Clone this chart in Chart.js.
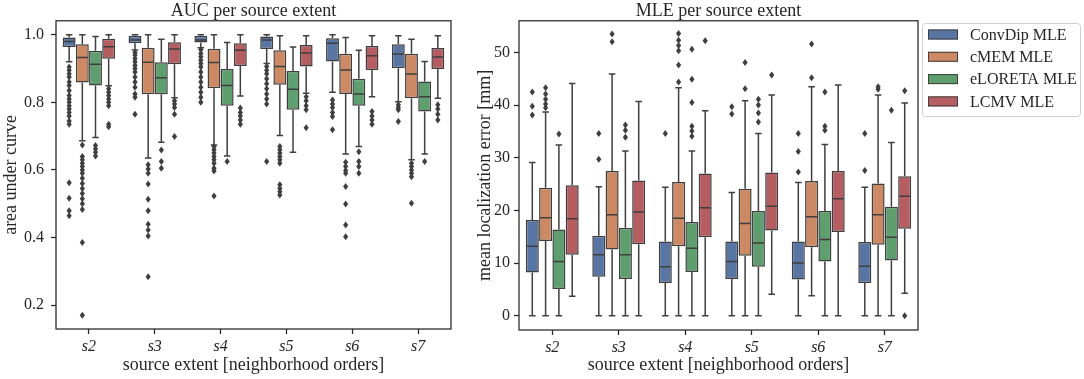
<!DOCTYPE html>
<html>
<head>
<meta charset="utf-8">
<script src="https://cdn.jsdelivr.net/npm/chart.js@4.4.1/dist/chart.umd.min.js"></script>
<style>
body { margin: 0; background: #fff; width: 1084px; height: 379px; overflow: hidden; position: relative; }
canvas { position: absolute; top: 0; }
#auc { left: 0; }
#mle { left: 470px; }
</style>
</head>
<body>
<canvas id="auc" width="470" height="379"></canvas>
<canvas id="mle" width="614" height="379"></canvas>
<script>
// categories and series
var categories = ['s2', 's3', 's4', 's5', 's6', 's7'];
var series = ['ConvDip MLE', 'cMEM MLE', 'eLORETA MLE', 'LCMV MLE'];
var colors = ['#5875a4', '#cc8963', '#5f9e6e', '#b55d60'];

// AUC panel, rows = series, cols = categories
var aucLo  = [[0.920, 0.955, 0.962, 0.915, 0.830, 0.802],
              [0.686, 0.635, 0.674, 0.702, 0.647, 0.630],
              [0.696, 0.682, 0.641, 0.652, 0.669, 0.647],
              [0.849, 0.814, 0.819, 0.827, 0.817, 0.812]];
var aucQ1  = [[0.964, 0.975, 0.977, 0.958, 0.921, 0.901],
              [0.859, 0.824, 0.842, 0.852, 0.825, 0.812],
              [0.850, 0.824, 0.790, 0.778, 0.790, 0.773],
              [0.929, 0.913, 0.908, 0.906, 0.896, 0.899]];
var aucMed = [[0.980, 0.985, 0.985, 0.985, 0.975, 0.943],
              [0.933, 0.919, 0.918, 0.906, 0.896, 0.884],
              [0.913, 0.873, 0.850, 0.839, 0.825, 0.817],
              [0.965, 0.958, 0.954, 0.946, 0.938, 0.934]];
var aucQ3  = [[0.992, 0.997, 0.997, 0.995, 0.990, 0.972],
              [0.972, 0.962, 0.959, 0.954, 0.944, 0.944],
              [0.953, 0.919, 0.899, 0.893, 0.870, 0.862],
              [0.988, 0.978, 0.975, 0.970, 0.967, 0.961]];
var aucHi  = [[1.000, 1.000, 1.000, 1.000, 1.000, 0.997],
              [1.000, 1.000, 1.000, 0.997, 0.992, 0.987],
              [0.995, 0.987, 0.977, 0.964, 0.954, 0.921],
              [1.000, 1.000, 1.000, 0.997, 0.997, 0.997]];
var aucOut = [
  [[0.905, 0.895, 0.885, 0.875, 0.86, 0.85, 0.835, 0.82, 0.81, 0.80, 0.79, 0.78, 0.77, 0.76, 0.745, 0.735, 0.562, 0.516, 0.479, 0.464],
   [0.948, 0.94, 0.93, 0.92, 0.91, 0.90, 0.89, 0.875, 0.86, 0.845, 0.825, 0.815, 0.765],
   [0.956, 0.945, 0.935, 0.925, 0.915, 0.905, 0.89, 0.875, 0.86, 0.845, 0.83, 0.815, 0.80],
   [0.906, 0.895, 0.885, 0.87, 0.855, 0.84, 0.825, 0.81, 0.795, 0.625],
   [0.807, 0.795, 0.785, 0.77, 0.758, 0.719],
   [0.793, 0.785, 0.778, 0.743]],
  [[0.674, 0.64, 0.63, 0.62, 0.61, 0.60, 0.59, 0.575, 0.56, 0.545, 0.53, 0.515, 0.50, 0.483, 0.385, 0.17],
   [0.615, 0.603, 0.590, 0.558, 0.513, 0.479, 0.439, 0.422, 0.404, 0.284],
   [0.669, 0.66, 0.65, 0.64, 0.63, 0.62, 0.605, 0.597, 0.523],
   [0.669, 0.66, 0.65, 0.64, 0.63, 0.62, 0.556, 0.545, 0.535, 0.526],
   [0.623, 0.61, 0.598, 0.59, 0.551, 0.499, 0.437, 0.402],
   [0.62, 0.61, 0.60, 0.59, 0.58, 0.501]],
  [[0.672, 0.662, 0.652, 0.641],
   [0.659, 0.625, 0.605],
   [0.625],
   [],
   [0.654, 0.625, 0.61, 0.59],
   [0.625]],
  [[0.84, 0.83, 0.82, 0.81, 0.80, 0.79, 0.735, 0.728],
   [0.805, 0.795, 0.785, 0.765, 0.699],
   [0.783, 0.77, 0.76, 0.748, 0.735],
   [0.817, 0.805, 0.79, 0.778, 0.725],
   [0.773, 0.76, 0.748, 0.735],
   [0.793, 0.78, 0.765, 0.748]]
];
var aucTicks = [0.2, 0.4, 0.6, 0.8, 1.0];

// MLE panel [mm]
var mleLo  = [[0, 0, 0, 0, 0, 0],
              [0, 0, 0, 0, 3.8, 0],
              [0, 0, 0, 0, 0, 0],
              [3.7, 0, 0, 4.1, 0, 4.3]];
var mleQ1  = [[8.2, 7.4, 6.2, 7.0, 6.9, 6.2],
              [14.2, 12.6, 13.2, 11.4, 13.0, 13.5],
              [5.1, 7.0, 8.3, 9.3, 10.3, 10.5],
              [11.6, 13.6, 14.9, 16.2, 15.9, 16.5]];
var mleMed = [[13.2, 11.6, 9.3, 10.3, 10.0, 9.4],
              [18.6, 19.2, 18.5, 17.5, 18.8, 19.2],
              [10.3, 11.6, 12.8, 13.8, 14.5, 14.9],
              [18.4, 19.7, 20.5, 20.8, 22.2, 22.7]];
var mleQ3  = [[18.2, 15.2, 14.1, 14.1, 14.1, 14.0],
              [24.3, 27.5, 25.4, 24.1, 25.6, 25.1],
              [16.4, 16.7, 17.8, 19.9, 19.9, 20.7],
              [24.8, 25.7, 27.0, 27.2, 27.5, 26.5]];
var mleHi  = [[29.1, 24.5, 24.4, 23.4, 25.3, 24.4],
              [38.7, 45.9, 43.3, 40.8, 43.5, 41.9],
              [32.4, 31.3, 31.3, 34.6, 32.5, 32.9],
              [44.1, 40.7, 38.9, 41.9, 43.8, 40.4]];
var mleOut = [
  [[38.1, 39.8, 42.5], [29.7, 34.6], [34.6], [38.3, 39.7], [27.3, 31.2, 34.6], [27.6, 34.6]],
  [[39.5, 40.2, 41.1, 42.1, 43.3], [52.0, 53.5], [44.4, 47.6, 50.3, 51.3, 52.3, 53.6], [43.1, 48.1], [45.2, 51.6], [43.0, 43.5]],
  [[34.5], [33.9, 35.2, 36.2], [34.1, 35.1, 36.0, 40.5, 44.9, 50.6], [36.8, 38.5, 40.0, 41.1], [35.2, 36.0, 42.5], [39.0]],
  [[], [], [52.2], [45.7], [], [0, 42.7]]
];
var mleTicks = [0, 10, 20, 30, 40, 50];

var FONT = 'Liberation Serif';
var INK = '#262626';
var EDGE = '#3f3f3f';

// whiskers, medians, fliers and the axes frame
function boxExtras(lo, hi, med, outl) {
    return {
        id: 'boxExtras',
        afterDatasetsDraw: function (chart) {
            var ctx = chart.ctx;
            var y = chart.scales.y;
            ctx.save();
            ctx.strokeStyle = EDGE;
            ctx.fillStyle = EDGE;
            ctx.lineWidth = 1.5;
            chart.data.datasets.forEach(function (ds, i) {
                chart.getDatasetMeta(i).data.forEach(function (bar, j) {
                    var x = bar.x, w = bar.width;
                    var y1 = y.getPixelForValue(ds.data[j][0]);
                    var y3 = y.getPixelForValue(ds.data[j][1]);
                    var yl = y.getPixelForValue(lo[i][j]);
                    var yh = y.getPixelForValue(hi[i][j]);
                    var ym = y.getPixelForValue(med[i][j]);
                    ctx.beginPath();
                    ctx.moveTo(x, y1); ctx.lineTo(x, yl);
                    ctx.moveTo(x, y3); ctx.lineTo(x, yh);
                    ctx.moveTo(x - w / 4, yl); ctx.lineTo(x + w / 4, yl);
                    ctx.moveTo(x - w / 4, yh); ctx.lineTo(x + w / 4, yh);
                    ctx.moveTo(x - w / 2 + 1, ym); ctx.lineTo(x + w / 2 - 1, ym);
                    ctx.stroke();
                    outl[i][j].forEach(function (v) {
                        var py = y.getPixelForValue(v);
                        ctx.beginPath();
                        ctx.moveTo(x, py - 3.5);
                        ctx.lineTo(x + 2.6, py);
                        ctx.lineTo(x, py + 3.5);
                        ctx.lineTo(x - 2.6, py);
                        ctx.closePath();
                        ctx.fill();
                    });
                });
            });
            var a = chart.chartArea;
            ctx.strokeStyle = INK;
            ctx.lineWidth = 1.25;
            ctx.strokeRect(a.left, a.top, a.right - a.left, a.bottom - a.top);
            ctx.restore();
        }
    };
}

var boxLegend = {
    id: 'boxLegend',
    afterDraw: function (chart) {
        var ctx = chart.ctx;
        ctx.save();
        ctx.fillStyle = 'rgba(255,255,255,0.8)';
        ctx.strokeStyle = '#d0d0d0';
        ctx.lineWidth = 1;
        ctx.beginPath();
        ctx.roundRect(452.5, 23.5, 158, 93, 3);
        ctx.fill();
        ctx.stroke();
        ctx.font = '16px "' + FONT + '"';
        ctx.textBaseline = 'middle';
        chart.data.datasets.forEach(function (ds, i) {
            var ry = 34.5 + i * 22.3;
            ctx.fillStyle = ds.backgroundColor;
            ctx.fillRect(458, ry - 5, 30, 10);
            ctx.strokeStyle = EDGE;
            ctx.strokeRect(458.5, ry - 4.5, 29, 9);
            ctx.fillStyle = INK;
            ctx.fillText(ds.label, 500, ry + 1);
        });
        ctx.restore();
    }
};

function makeChart(id, opts) {
    var datasets = series.map(function (s, i) {
        return {
            label: s,
            data: opts.q1[i].map(function (v, j) { return [v, opts.q3[i][j]]; }),
            backgroundColor: colors[i],
            borderColor: EDGE,
            borderWidth: 1.5,
            borderSkipped: false,
            categoryPercentage: 0.8,
            barPercentage: 0.98
        };
    });
    var plugins = [boxExtras(opts.lo, opts.hi, opts.med, opts.out)];
    if (opts.legend) plugins.push(boxLegend);

    return new Chart(document.getElementById(id), {
        type: 'bar',
        data: { labels: categories, datasets: datasets },
        plugins: plugins,
        options: {
            responsive: false,
            animation: false,
            devicePixelRatio: 1,
            layout: { padding: { top: 0, right: opts.padRight, bottom: 0, left: 0 } },
            plugins: {
                legend: { display: false },
                tooltip: { enabled: false },
                title: {
                    display: true,
                    text: opts.title,
                    fullSize: false,
                    color: INK,
                    font: { family: FONT, size: 18, weight: 'normal', lineHeight: 1.1 },
                    padding: { top: 1, bottom: 0 }
                }
            },
            scales: {
                x: {
                    grid: { display: true, offset: false, drawOnChartArea: false, color: INK, tickLength: 5, tickWidth: 1.25 },
                    border: { display: false },
                    ticks: { color: INK, padding: 3, font: { family: FONT, size: 16, style: 'italic' } },
                    title: {
                        display: true,
                        text: 'source extent [neighborhood orders]',
                        color: INK,
                        font: { family: FONT, size: 18 },
                        padding: { top: 0, bottom: 3 }
                    },
                    afterFit: function (s) { s.height = opts.xHeight; }
                },
                y: {
                    min: opts.min,
                    max: opts.max,
                    grid: { display: true, drawOnChartArea: false, color: INK, tickLength: 5, tickWidth: 1.25 },
                    border: { display: false },
                    ticks: {
                        color: INK,
                        padding: opts.tickPad,
                        font: { family: FONT, size: 16 },
                        callback: opts.fmt
                    },
                    afterBuildTicks: function (s) {
                        s.ticks = opts.ticks.map(function (v) { return { value: v }; });
                    },
                    title: {
                        display: true,
                        text: opts.yTitle,
                        color: INK,
                        font: { family: FONT, size: 18 },
                        padding: { top: opts.yTitlePad, bottom: 0 }
                    },
                    afterFit: function (s) { s.width = opts.yWidth; }
                }
            }
        }
    });
}

makeChart('auc', {
    title: 'AUC per source extent',
    yTitle: 'area under curve',
    lo: aucLo, q1: aucQ1, med: aucMed, q3: aucQ3, hi: aucHi, out: aucOut,
    ticks: aucTicks, min: 0.129, max: 1.0415,
    fmt: function (v) { return v.toFixed(1); },
    padRight: 19, xHeight: 50, yWidth: 56, tickPad: 7, yTitlePad: 0, legend: false
});

makeChart('mle', {
    title: 'MLE per source extent',
    yTitle: 'mean localization error [mm]',
    lo: mleLo, q1: mleQ1, med: mleMed, q3: mleQ3, hi: mleHi, out: mleOut,
    ticks: mleTicks, min: -2.7, max: 56,
    fmt: function (v) { return String(v); },
    padRight: 166, xHeight: 49, yWidth: 49, tickPad: 4, yTitlePad: 4, legend: true
});
</script>
</body>
</html>
